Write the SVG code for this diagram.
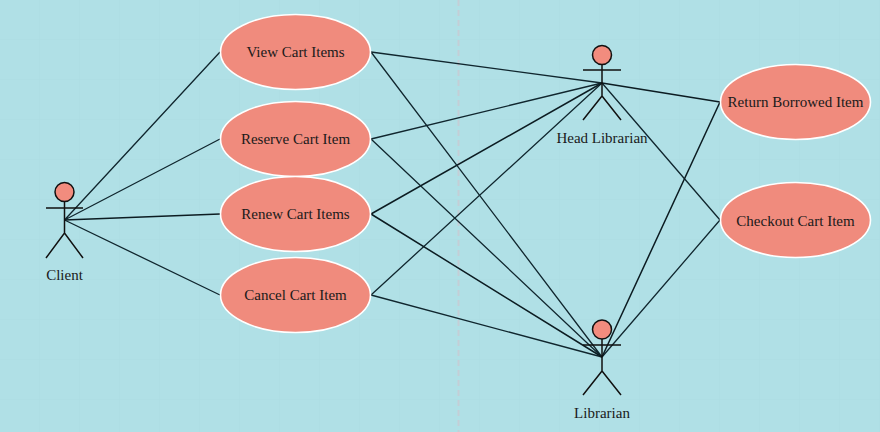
<svg xmlns="http://www.w3.org/2000/svg" width="880" height="432" viewBox="0 0 880 432">
<style>
text{font-family:"Liberation Serif","Times New Roman",serif;font-size:15px;fill:#1a1a1a;text-anchor:middle}
.uc{fill:#f08b7d;stroke:#fff;stroke-width:1.6}
.head{fill:#f28c7e;stroke:#111;stroke-width:1.5}
.fig{fill:none;stroke:#111;stroke-width:1.5}
.c{stroke:#10262e;stroke-width:1.3;fill:none}
.d{stroke:#0c1c22;stroke-width:1.5;fill:none}
.g{stroke:#acdde3;stroke-width:1;fill:none}
</style>
<defs><pattern id="grid" width="40" height="40" patternUnits="userSpaceOnUse"><path class="g" d="M40 0V40M0 40H40"/></pattern></defs>
<rect width="880" height="432" fill="#b0e0e6"/>
<rect width="880" height="432" fill="url(#grid)"/>
<line x1="458.500" y1="0" x2="458.500" y2="432" stroke="#c4ced6" stroke-width="2" stroke-dasharray="6 4"/>
<g id="connectors">
<path class="c" d="M64.500 220L220 52M64.500 220L220 139M64.500 220L220 295"/>
<path class="d" d="M64.500 220L220 214"/>
<path class="c" d="M371 52L602 83M371 139L602 83M371 295L602 83M602 83L720 220"/>
<path class="d" d="M371 214L602 83M602 83L720 102"/>
<path class="c" d="M371 52L602 357M371 139L602 357M371 295L602 357M602 357L720 220"/>
<path class="d" d="M371 214L602 357M602 357L720 102"/>
</g>
<g id="client"><circle class="head" cx="64.500" cy="192" r="9.500"/><path class="fig" d="M64.500 202V233M46 208H83M46 258L64.500 233L83 258"/><text x="64.500" y="280">Client</text></g>
<g id="head-librarian"><circle class="head" cx="602" cy="55" r="9.500"/><path class="fig" d="M602 65V96M583 70H621M583 120L602 96L621 120"/><text x="602" y="143">Head Librarian</text></g>
<g id="librarian"><circle class="head" cx="602" cy="329.500" r="9.500"/><path class="fig" d="M602 339V371M583 345H621M583 395L602 371L621 395"/><text x="602" y="418">Librarian</text></g>
<g id="view-cart-items"><ellipse class="uc" cx="295.500" cy="52" rx="75" ry="37.500"/><text x="295.500" y="57">View Cart Items</text></g>
<g id="reserve-cart-item"><ellipse class="uc" cx="295.500" cy="139" rx="75" ry="37.500"/><text x="295.500" y="144">Reserve Cart Item</text></g>
<g id="renew-cart-items"><ellipse class="uc" cx="295.500" cy="214" rx="75" ry="37.500"/><text x="295.500" y="219">Renew Cart Items</text></g>
<g id="cancel-cart-item"><ellipse class="uc" cx="295.500" cy="295" rx="75" ry="37.500"/><text x="295.500" y="300">Cancel Cart Item</text></g>
<g id="return-borrowed-item"><ellipse class="uc" cx="795.500" cy="102" rx="75" ry="37.500"/><text x="795.500" y="107">Return Borrowed Item</text></g>
<g id="checkout-cart-item"><ellipse class="uc" cx="795.500" cy="220" rx="75" ry="37.500"/><text x="795.500" y="226">Checkout Cart Item</text></g>
</svg>
